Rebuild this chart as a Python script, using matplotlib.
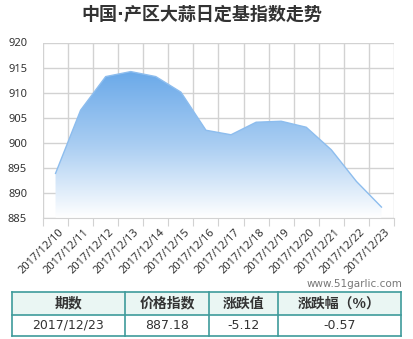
import numpy as np
import matplotlib
matplotlib.use("Agg")
import matplotlib.pyplot as plt
from matplotlib.colors import LinearSegmentedColormap

plt.rcParams['font.family'] = ['Noto Sans CJK SC', 'DejaVu Sans']

# data
dates = ["2017/12/10", "2017/12/11", "2017/12/12", "2017/12/13", "2017/12/14",
         "2017/12/15", "2017/12/16", "2017/12/17", "2017/12/18", "2017/12/19",
         "2017/12/20", "2017/12/21", "2017/12/22", "2017/12/23"]
values = [893.9, 906.5, 913.2, 914.2, 913.2, 910.1, 902.5, 901.6,
          904.1, 904.3, 903.1, 898.6, 892.3, 887.18]
y_ticks = [885, 890, 895, 900, 905, 910, 915, 920]

table_header = ["期数", "价格指数", "涨跌值", "涨跌幅（%）"]
table_row = ["2017/12/23", "887.18", "-5.12", "-0.57"]

W, H = 414, 339
fig = plt.figure(figsize=(W / 100, H / 100), dpi=100)

# chart axes in pixel coords
left, right, top, bottom = 43, 394, 42.5, 218
ax = fig.add_axes([left / W, 1 - bottom / H, (right - left) / W, (bottom - top) / H])

n = len(dates)
x = np.arange(n)
ax.set_xlim(-0.5, n - 0.5)
ax.set_ylim(885, 920)

# gradient fill under the line
fill = ax.fill_between(x, values, 885, color="none")
cmap = LinearSegmentedColormap.from_list("g", ["#ffffff", "#a9cdf2", "#6aa9e9"])
grad = np.linspace(0, 1, 256).reshape(-1, 1)
img = ax.imshow(grad, cmap=cmap, aspect="auto", origin="lower",
                extent=[-0.5, n - 0.5, 885, max(values)], zorder=1)
img.set_clip_path(fill.get_paths()[0], transform=ax.transData)
ax.plot(x, values, color="#8dbdee", lw=1.0, zorder=2)

# grid
ax.set_xticks(np.arange(-0.5, n, 1.0), minor=False)
ax.set_xticklabels([])
ax.set_yticks(y_ticks)
ax.set_yticklabels([str(v) for v in y_ticks], fontsize=8, color="#333333",
                   family=['Noto Sans'])
ax.grid(True, color="#d2d2d2", lw=1.0, zorder=0)
ax.set_axisbelow(True)
for s in ["top", "right", "left"]:
    ax.spines[s].set_visible(False)
ax.spines["bottom"].set_color("#d2d2d2")
ax.tick_params(axis="y", length=0, pad=11.5)
ax.tick_params(axis="x", length=6, color="#d2d2d2")

for i, d in enumerate(dates):
    ax.text(i + 0.12, 883.3, d, rotation=45, ha="right", va="top",
            fontsize=8, color="#333333", family=['Noto Sans'],
            rotation_mode="anchor")

# title
fig.text(202 / W, 1 - 15 / H, "中国·产区大蒜日定基指数走势", ha="center", va="center",
         fontsize=13, fontweight="bold", color="#333333",
         family=['DejaVu Sans', 'Noto Sans CJK SC'])

# watermark
fig.text(402 / W, 1 - 284 / H, "www.51garlic.com", ha="right", va="center",
         fontsize=7.5, color="#777777", family=['DejaVu Sans'])

# table
col_x = [12, 125, 209, 278, 401]
t_top, t_mid, t_bot = 292, 315, 336
tax = fig.add_axes([0, 0, 1, 1])
tax.set_xlim(0, W)
tax.set_ylim(H, 0)
tax.axis("off")
tax.add_patch(plt.Rectangle((col_x[0], t_top), col_x[-1] - col_x[0], t_mid - t_top,
                            facecolor="#eaf6f3", edgecolor="none"))
border = "#3e9b9b"
for y in [t_top, t_mid, t_bot]:
    tax.plot([col_x[0], col_x[-1]], [y, y], color=border, lw=1.2)
for cx in col_x:
    tax.plot([cx, cx], [t_top, t_bot], color=border, lw=1.2)
for i in range(4):
    cx = (col_x[i] + col_x[i + 1]) / 2
    tax.text(cx, (t_top + t_mid) / 2, table_header[i], ha="center", va="center",
             fontsize=10, fontweight="bold", color="#333333")
    tax.text(cx, (t_mid + t_bot) / 2, table_row[i], ha="center", va="center",
             fontsize=9, color="#333333", family=['DejaVu Sans'])

fig.savefig("out.png", dpi=100)
